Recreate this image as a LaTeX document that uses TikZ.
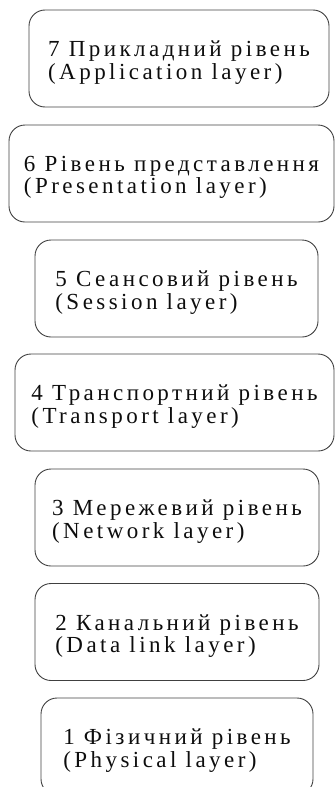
\documentclass[tikz,border=0pt]{standalone}
\usepackage{fontspec}
\setmainfont[LetterSpace=15]{Liberation Serif}
\begin{document}
\begin{tikzpicture}[x=1pt,y=-1pt,
  layerbox/.style={draw=black!75, line width=0.9pt, rounded corners=16pt,
    minimum height=97pt, inner sep=0pt},
  layertext/.style={align=left, font=\fontsize{23}{22.5}\selectfont,
    text=black!95, inner sep=0pt},
]
\clip (0,0) rectangle (335,787);
\useasboundingbox (0,0) rectangle (335,787);
\node[layerbox, minimum width=300pt] (b7) at (179,58.5) {};
\node[layertext] (t7) at ([yshift=-4pt]b7.center) {7 Прикладний рівень\\(Application layer)};
\node[layerbox, minimum width=325pt] (b6) at (171.5,173.5) {};
\node[layertext] (t6) at ([yshift=-4pt]b6.center) {6 Рівень представлення\\(Presentation layer)};
\node[layerbox, minimum width=283pt] (b5) at (176.5,288.5) {};
\node[layertext] (t5) at ([yshift=-4pt]b5.center) {5 Сеансовий рівень\\(Session layer)};
\node[layerbox, minimum width=319pt] (b4) at (174.5,402.5) {};
\node[layertext] (t4) at ([yshift=-4pt]b4.center) {4 Транспортний рівень\\(Transport layer)};
\node[layerbox, minimum width=284pt] (b3) at (177,517.5) {};
\node[layertext] (t3) at ([yshift=-4pt]b3.center) {3 Мережевий рівень\\(Network layer)};
\node[layerbox, minimum width=284pt] (b2) at (177,632) {};
\node[layertext] (t2) at ([yshift=-4pt]b2.center) {2 Канальний рівень\\(Data link layer)};
\node[layerbox, minimum width=272pt] (b1) at (177,746.5) {};
\node[layertext] (t1) at ([yshift=-4pt]b1.center) {1 Фізичний рівень\\(Physical layer)};
\end{tikzpicture}
\end{document}
